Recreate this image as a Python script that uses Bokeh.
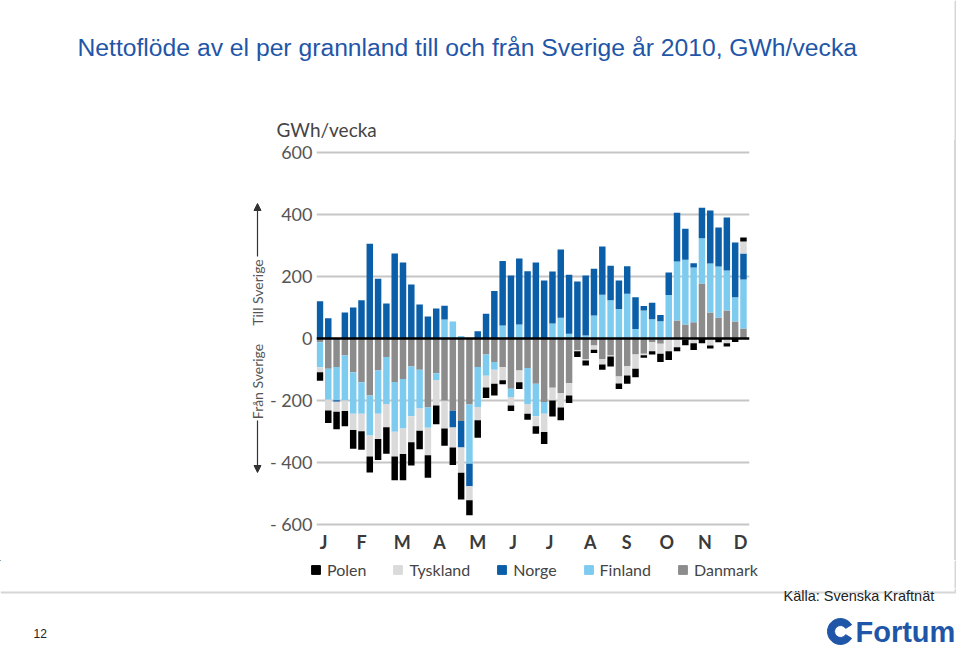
import math
from bokeh.plotting import figure
from bokeh.layouts import column, row
from bokeh.models import (ColumnDataSource, Span, Legend, LegendItem, FixedTicker,
                          Range1d, Arrow, NormalHead, Div)
from bokeh.core.properties import value
from bokeh.embed import file_html
from bokeh.resources import INLINE

weeks = list(range(1, 53))

# Import to Sweden (positive, GWh/week)
danmark_in = [0]*42 + [3, 58, 45, 52, 177, 84, 68, 90, 55, 32]
finland_in = ([0]*15 + [61, 55, 8, 0, 0, 0, 0, 42, 0, 45, 0, 0, 0, 48, 67, 15, 0, 10, 74,
               141, 123, 95, 144, 31, 90, 62, 56, 137, 190, 209, 177, 146, 158, 164, 129, 78, 158])
norge_in = [120, 65, 0, 84, 100, 123, 306, 193, 113, 274, 245, 174, 110, 71, 97, 45, 0, 0, 0,
            23, 80, 153, 208, 203, 213, 217, 245, 187, 168, 220, 191, 184, 193, 151, 156, 112,
            92, 89, 102, 15, 53, 20, 73, 158, 100, 14, 99, 171, 126, 171, 177, 84]
tyskland_in = [0]*51 + [39]
polen_in = [0]*51 + [13]

# Export from Sweden (GWh/week, drawn below zero)
danmark_out = [12, 98, 92, 55, 109, 141, 184, 103, 60, 140, 131, 90, 101, 223, 112, 201, 233,
               266, 213, 92, 52, 76, 92, 162, 103, 95, 146, 205, 159, 176, 144, 37, 66, 23, 66,
               55, 123, 89, 52, 49, 12, 17, 0, 0, 0, 0, 0, 0, 0, 0, 0, 0]
finland_out = ([81, 100, 107, 145, 134, 102, 129, 140, 151, 161, 159, 161, 125, 65, 22, 0, 0, 0,
                191, 129, 68, 25, 0, 27, 0, 116, 105, 38] + [0]*24)
norge_out = [0, 0, 5] + [0]*13 + [54, 86, 73] + [0]*33
tyskland_out = [16, 34, 32, 34, 52, 56, 68, 81, 75, 80, 83, 84, 72, 89, 82, 89, 65, 81, 45, 43,
                38, 45, 43, 27, 38, 32, 32, 59, 41, 47, 40, 4, 5, 13, 18, 3, 22, 30, 46, 5, 29,
                32, 41, 28, 3, 15, 0, 23, 0, 15, 0, 0]
polen_out = [27, 41, 57, 49, 61, 60, 51, 68, 86, 76, 84, 75, 59, 72, 61, 56, 56, 86, 48, 56, 34,
             38, 13, 18, 22, 19, 24, 38, 52, 41, 24, 19, 16, 11, 17, 32, 18, 27, 27, 8, 11, 27,
             28, 13, 19, 22, 15, 9, 12, 11, 11, 0]

countries = ["Danmark", "Finland", "Norge", "Tyskland", "Polen"]
legend_order = ["Polen", "Tyskland", "Norge", "Finland", "Danmark"]
colors = {"Polen": "#000000", "Tyskland": "#dadada", "Norge": "#0b5ea8",
          "Finland": "#7ecbf0", "Danmark": "#8c8c8c"}

month_labels = ["J", "F", "M", "A", "M", "J", "J", "A", "S", "O", "N", "D"]
month_pos = [1.45, 6.0, 10.9, 15.4, 20.0, 24.25, 28.65, 33.55, 37.95, 42.75, 47.35, 51.65]
y_ticks = [-600, -400, -200, 0, 200, 400, 600]
y_tick_labels = ["- 600", "- 400", "- 200", "0", "200", "400", "600"]

title_text = "Nettoflöde av el per grannland till och från Sverige år 2010, GWh/vecka"
unit_text = "GWh/vecka"
source_text = "Källa: Svenska Kraftnät"

src_in = ColumnDataSource(dict(week=weeks, Danmark=danmark_in, Finland=finland_in, Norge=norge_in,
                               Tyskland=tyskland_in, Polen=polen_in))
src_out = ColumnDataSource(dict(week=weeks,
                                Danmark=[-v for v in danmark_out], Finland=[-v for v in finland_out],
                                Norge=[-v for v in norge_out], Tyskland=[-v for v in tyskland_out],
                                Polen=[-v for v in polen_out]))

FONT = "Lato"
BLUE = "#1f56a8"
BORDER = "#d6d6d6"


def deco(w, h, x0, x1, y0, y1):
    f = figure(width=w, height=h, x_range=Range1d(x0, x1), y_range=Range1d(y1, y0),
               output_backend="svg", toolbar_location=None, min_border=0,
               x_axis_type=None, y_axis_type=None, outline_line_color=None)
    f.grid.visible = False
    return f


# ---- header (page y 0..140)
header = deco(956, 140, 0, 956, 0, 140)
header.text(x=[77], y=[47], text=[title_text], text_font=value("Liberation Sans"),
            text_font_size="24.7px", text_color=BLUE, text_baseline="middle")
header.text(x=[276], y=[129], text=[unit_text], text_font=value(FONT),
            text_font_size="19px", text_color="#444444", text_baseline="middle")
header.line([955, 955], [0, 140], line_color=BORDER, line_width=2)

# ---- left strip (page x 0..266; its frame is aligned with the chart frame, y 140..530)
left = deco(266, 420, 0, 266, 140, 530)
left.text(x=[257], y=[292], text=["Till Sverige"], angle=math.pi / 2, text_font=value(FONT),
          text_font_size="14px", text_color="#555555", text_align="center",
          text_baseline="middle")
left.text(x=[257], y=[381], text=["Från Sverige"], angle=math.pi / 2, text_font=value(FONT),
          text_font_size="14px", text_color="#555555", text_align="center",
          text_baseline="middle")
left.add_layout(Arrow(x_start=257, y_start=256, x_end=257, y_end=203, line_width=1.2,
                      line_color="#333333",
                      end=NormalHead(size=7, fill_color="#333333", line_color="#333333")))
left.add_layout(Arrow(x_start=257, y_start=420, x_end=257, y_end=472, line_width=1.2,
                      line_color="#333333",
                      end=NormalHead(size=7, fill_color="#333333", line_color="#333333")))

# ---- main chart (page x 266..760, y 140..560; frame 311..749 x 140..530)
x0 = 1 - 3.5 / 8.4
x1 = x0 + 438 / 8.4
p = figure(width=494, height=420, output_backend="svg", toolbar_location=None,
           x_range=Range1d(x0, x1), y_range=Range1d(-619.4, 638.7),
           min_border_left=45, min_border_right=11, min_border_top=0, min_border_bottom=30)
p.outline_line_color = None
p.xgrid.visible = False

p.yaxis.ticker = FixedTicker(ticks=y_ticks)
p.yaxis.major_label_overrides = {t: l for t, l in zip(y_ticks, y_tick_labels)}
p.yaxis.axis_line_color = None
p.yaxis.major_tick_line_color = None
p.yaxis.minor_tick_line_color = None
p.yaxis.major_tick_out = 0
p.yaxis.major_tick_in = 0
p.yaxis.major_label_standoff = 4
p.yaxis.major_label_text_font = FONT
p.yaxis.major_label_text_font_size = "18px"
p.yaxis.major_label_text_color = "#555555"

p.ygrid.ticker = FixedTicker(ticks=[t for t in y_ticks if t != 0])
p.ygrid.grid_line_color = "#c6c6c6"
p.ygrid.grid_line_width = 2

p.xaxis.ticker = FixedTicker(ticks=month_pos)
p.xaxis.major_label_overrides = {t: l for t, l in zip(month_pos, month_labels)}
p.xaxis.axis_line_color = None
p.xaxis.major_tick_line_color = None
p.xaxis.minor_tick_line_color = None
p.xaxis.major_tick_out = 0
p.xaxis.major_tick_in = 0
p.xaxis.major_label_standoff = 0
p.xaxis.major_label_text_font = FONT
p.xaxis.major_label_text_font_size = "18px"
p.xaxis.major_label_text_font_style = "bold"
p.xaxis.major_label_text_color = "#3a3a3a"

p.vbar_stack(countries, x="week", width=0.78, source=src_in,
             color=[colors[c] for c in countries], line_width=0)
p.vbar_stack(countries, x="week", width=0.78, source=src_out,
             color=[colors[c] for c in countries], line_width=0)

p.add_layout(Span(location=0, dimension="width", line_color="black", line_width=2.5))

# ---- right strip (page x 760..956) with the slide's right border
right = Div(text="", width=196, height=420, margin=0,
            styles={"border-right": "2px solid " + BORDER, "box-sizing": "border-box"})

# ---- legend strip (page y 560..588)
leg = deco(956, 28, 0, 956, 560, 588)
leg.line([955, 955], [560, 588], line_color=BORDER, line_width=2)
proxy = ColumnDataSource(dict(x=[-100], top=[0]))  # off-canvas legend proxies
items = []
for c in legend_order:
    r = leg.vbar(x="x", top="top", width=1, source=proxy, color=colors[c])
    items.append(LegendItem(label=c, renderers=[r]))
legend = Legend(items=items, orientation="horizontal", location=(310, 9), glyph_width=11,
                glyph_height=11, label_standoff=6, spacing=26, padding=0, margin=0,
                border_line_color=None, background_fill_alpha=0, label_text_font=FONT,
                label_text_font_size="16px", label_text_color="#444444", label_height=11)
leg.add_layout(legend)

# ---- footer (page y 588..646)
footer = deco(956, 58, 0, 956, 588, 646)
footer.line([0, 955, 955], [592, 592, 588], line_color=BORDER, line_width=2)
footer.text(x=[783], y=[595], text=[source_text], text_font=value("Liberation Sans"),
            text_font_size="14.5px", text_color="#222222", text_baseline="middle")
footer.text(x=[33], y=[633], text=["12"], text_font=value("Liberation Sans"),
            text_font_size="12px", text_color="#222222", text_baseline="middle")
footer.annular_wedge(x=[840], y=[631], inner_radius=6, outer_radius=13,
                     start_angle=0.55, end_angle=2 * math.pi - 0.55, color=BLUE)
footer.text(x=[855], y=[631], text=["Fortum"], text_font=value("Liberation Sans"),
            text_font_size="29px", text_font_style="bold", text_color=BLUE,
            text_baseline="middle")

layout = column(header, row(left, p, right), leg, footer)
open("out.html", "w").write(file_html(layout, INLINE))
